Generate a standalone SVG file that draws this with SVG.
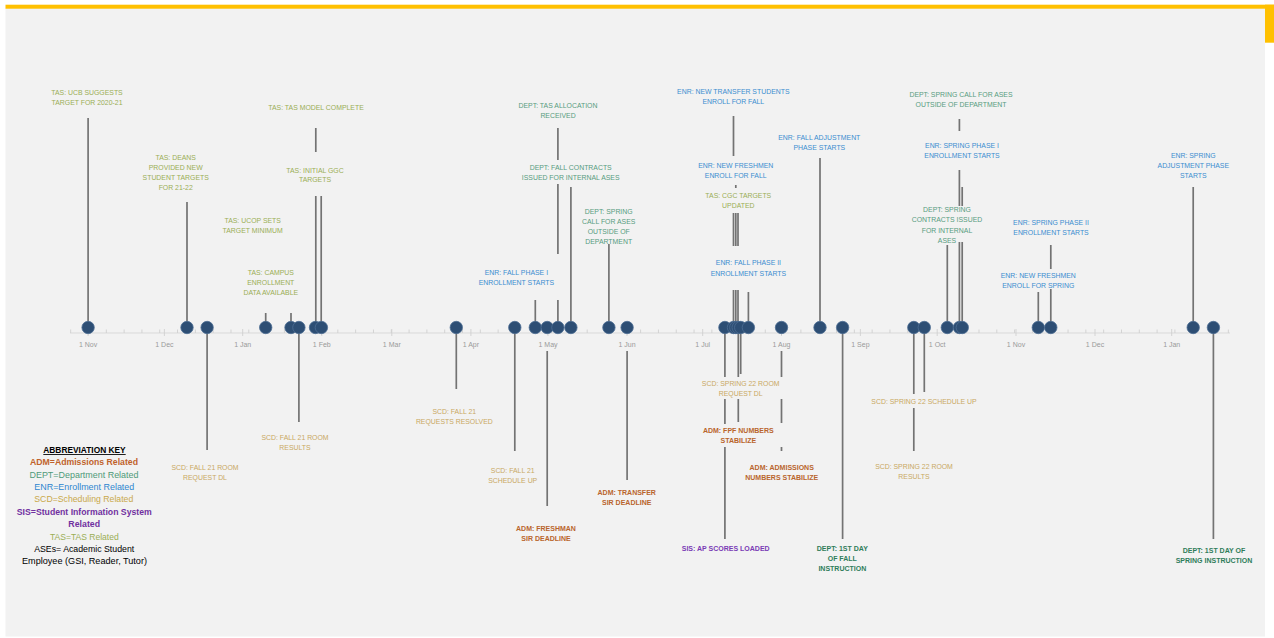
<svg xmlns="http://www.w3.org/2000/svg" width="1274" height="638" viewBox="0 0 1274 638">
<defs>
<style>
text{font-family:"Liberation Sans",Arial,sans-serif;text-anchor:middle}
.l{font-size:6.9px}
.b{font-size:7px;font-weight:bold}
.tas{fill:#9aae55}
.scd{fill:#c9a862}
.enr{fill:#3a8dd0}
.dept{fill:#579c80}
.deptb{fill:#2f7d5a}
.adm{fill:#b9652d}
.sis{fill:#7a3bb5}
.ax{font-size:7px;fill:#9a9a9a}
.leg{font-size:8.7px}
.st{stroke:#737373;stroke-width:1.7;fill:none}
.dot{fill:#2d4e74;stroke:#4d6d93;stroke-width:0.8}
</style>
<pattern id="wk" x="88" y="0" width="17.81" height="4" patternUnits="userSpaceOnUse">
<rect x="0" y="0" width="0.9" height="4" fill="#d0d0d0"/>
</pattern>
</defs>

<rect x="0" y="0" width="1274" height="638" fill="#ffffff"/>
<rect x="5.5" y="8" width="1259.5" height="628.5" fill="#f2f2f2"/>
<rect x="5.5" y="4.7" width="1268.5" height="4" fill="#ffc000"/>
<rect x="1265" y="4.7" width="9" height="38" fill="#ffc000"/>

<g id="axis">
<line x1="70" y1="333" x2="1230" y2="333" stroke="#d9d9d9" stroke-width="1"/>
<rect x="70" y="329.5" width="1160" height="3.5" fill="url(#wk)"/>
<path d="M88.1 329v7M164.4 329v7M242.7 329v7M321.8 329v7M391.8 329v7M470.9 329v7M548 329v7M627 329v7M702.7 329v7M781.5 329v7M860.4 329v7M937.2 329v7M1016 329v7M1095 329v7M1171.7 329v7" stroke="#d0d0d0" stroke-width="0.9"/>
<text class="ax" x="88.1" y="346.5">1 Nov</text>
<text class="ax" x="164.4" y="346.5">1 Dec</text>
<text class="ax" x="242.7" y="346.5">1 Jan</text>
<text class="ax" x="321.8" y="346.5">1 Feb</text>
<text class="ax" x="391.8" y="346.5">1 Mar</text>
<text class="ax" x="470.9" y="346.5">1 Apr</text>
<text class="ax" x="548" y="346.5">1 May</text>
<text class="ax" x="627" y="346.5">1 Jun</text>
<text class="ax" x="702.7" y="346.5">1 Jul</text>
<text class="ax" x="781.5" y="346.5">1 Aug</text>
<text class="ax" x="860.4" y="346.5">1 Sep</text>
<text class="ax" x="937.2" y="346.5">1 Oct</text>
<text class="ax" x="1016" y="346.5">1 Nov</text>
<text class="ax" x="1095" y="346.5">1 Dec</text>
<text class="ax" x="1171.7" y="346.5">1 Jan</text>
</g>

<g id="connectors" class="st">
<path d="M88.1 327V118"/>
<path d="M187 327V202"/>
<path d="M265.7 327V313"/>
<path d="M291 327V313"/>
<path d="M315.8 327V196M315.8 152V128"/>
<path d="M321.2 327V196"/>
<path d="M535.3 327V300"/>
<path d="M557.9 327V300M557.9 254V184M557.9 160V128"/>
<path d="M570.9 327V187"/>
<path d="M608.9 327V244"/>
<path d="M733.5 327V290M733.5 246V213M733.5 156V116"/>
<path d="M735.8 327V290M735.8 246V213M735.8 188V185"/>
<path d="M738 327V290M738 246V213"/>
<path d="M748.4 327V292"/>
<path d="M820 327V158"/>
<path d="M947.3 327V245"/>
<path d="M959.4 327V242M959.4 206V170M959.4 131V119"/>
<path d="M962.2 327V242M962.2 206V187"/>
<path d="M1038.3 327V292"/>
<path d="M1050.8 327V289M1050.8 269V245"/>
<path d="M1193.2 327V187"/>
<path d="M207.1 327V450"/>
<path d="M298.9 327V422"/>
<path d="M456.3 327V389"/>
<path d="M514.8 327V451"/>
<path d="M547.2 351V506"/>
<path d="M627.1 351V480"/>
<path d="M724.9 327V377M724.9 399V424M724.9 447V539"/>
<path d="M738.3 327V377M738.3 399V422"/>
<path d="M740.7 327V374"/>
<path d="M781.5 351V377M781.5 399V423M781.5 447V451"/>
<path d="M842.6 327V539"/>
<path d="M913.8 327V394M913.8 408V451"/>
<path d="M924.3 327V392"/>
<path d="M1213.4 327V539"/>
</g>

<g id="markers" class="dot">
<circle cx="88.1" cy="327.5" r="6.2"/>
<circle cx="187" cy="327.5" r="6.2"/>
<circle cx="207.1" cy="327.5" r="6.2"/>
<circle cx="265.7" cy="327.5" r="6.2"/>
<circle cx="291" cy="327.5" r="6.2"/>
<circle cx="298.9" cy="327.5" r="6.2"/>
<circle cx="315.5" cy="327.5" r="6.2"/>
<circle cx="321.4" cy="327.5" r="6.2"/>
<circle cx="456.3" cy="327.5" r="6.2"/>
<circle cx="514.8" cy="327.5" r="6.2"/>
<circle cx="535.3" cy="327.5" r="6.2"/>
<circle cx="547.2" cy="327.5" r="6.2"/>
<circle cx="557.9" cy="327.5" r="6.2"/>
<circle cx="570.9" cy="327.5" r="6.2"/>
<circle cx="608.9" cy="327.5" r="6.2"/>
<circle cx="627.1" cy="327.5" r="6.2"/>
<circle cx="724.9" cy="327.5" r="6.2"/>
<circle cx="733.5" cy="327.5" r="6.2"/>
<circle cx="735.8" cy="327.5" r="6.2"/>
<circle cx="738.2" cy="327.5" r="6.2"/>
<circle cx="740.7" cy="327.5" r="6.2"/>
<circle cx="748.4" cy="327.5" r="6.2"/>
<circle cx="781.5" cy="327.5" r="6.2"/>
<circle cx="820" cy="327.5" r="6.2"/>
<circle cx="842.6" cy="327.5" r="6.2"/>
<circle cx="913.8" cy="327.5" r="6.2"/>
<circle cx="924.3" cy="327.5" r="6.2"/>
<circle cx="947.3" cy="327.5" r="6.2"/>
<circle cx="959.4" cy="327.5" r="6.2"/>
<circle cx="962.3" cy="327.5" r="6.2"/>
<circle cx="1038.3" cy="327.5" r="6.2"/>
<circle cx="1050.8" cy="327.5" r="6.2"/>
<circle cx="1193.2" cy="327.5" r="6.2"/>
<circle cx="1213.4" cy="327.5" r="6.2"/>
</g>

<g id="tas-ucb"><text class="l tas"><tspan x="87" y="94.8">TAS: UCB SUGGESTS</tspan><tspan x="87" y="104.8">TARGET FOR 2020-21</tspan></text></g>
<g id="tas-deans"><text class="l tas"><tspan x="175.7" y="159.8">TAS: DEANS</tspan><tspan x="175.7" y="170">PROVIDED NEW</tspan><tspan x="175.7" y="180.2">STUDENT TARGETS</tspan><tspan x="175.7" y="190.4">FOR 21-22</tspan></text></g>
<g id="tas-ucop"><text class="l tas"><tspan x="252.7" y="223.2">TAS: UCOP SETS</tspan><tspan x="252.7" y="233.2">TARGET MINIMUM</tspan></text></g>
<g id="tas-campus"><text class="l tas"><tspan x="270.8" y="274.5">TAS: CAMPUS</tspan><tspan x="270.8" y="284.5">ENROLLMENT</tspan><tspan x="270.8" y="294.5">DATA AVAILABLE</tspan></text></g>
<g id="tas-model"><text class="l tas" x="316" y="109.8">TAS: TAS MODEL COMPLETE</text></g>
<g id="tas-ggc"><text class="l tas"><tspan x="315" y="172.5">TAS: INITIAL GGC</tspan><tspan x="315" y="182.3">TARGETS</tspan></text></g>
<g id="tas-cgc"><text class="l tas"><tspan x="738.3" y="198.2">TAS: CGC TARGETS</tspan><tspan x="738.3" y="208.2">UPDATED</tspan></text></g>

<g id="scd-fall-room-dl"><text class="l scd"><tspan x="205" y="469.8">SCD: FALL 21 ROOM</tspan><tspan x="205" y="479.8">REQUEST DL</tspan></text></g>
<g id="scd-fall-room-results"><text class="l scd"><tspan x="295" y="439.8">SCD: FALL 21 ROOM</tspan><tspan x="295" y="449.8">RESULTS</tspan></text></g>
<g id="scd-fall-requests"><text class="l scd"><tspan x="454.3" y="413.5">SCD: FALL 21</tspan><tspan x="454.3" y="423.5">REQUESTS RESOLVED</tspan></text></g>
<g id="scd-fall-schedule"><text class="l scd"><tspan x="512.7" y="472.5">SCD: FALL 21</tspan><tspan x="512.7" y="482.5">SCHEDULE UP</tspan></text></g>
<g id="scd-spring-dl"><text class="l scd"><tspan x="740.7" y="385.8">SCD: SPRING 22 ROOM</tspan><tspan x="740.7" y="395.8">REQUEST DL</tspan></text></g>
<g id="scd-spring-schedule"><text class="l scd" x="924" y="404.2">SCD: SPRING 22 SCHEDULE UP</text></g>
<g id="scd-spring-results"><text class="l scd"><tspan x="914" y="469.2">SCD: SPRING 22 ROOM</tspan><tspan x="914" y="479.2">RESULTS</tspan></text></g>

<g id="enr-fall-p1"><text class="l enr"><tspan x="516.4" y="274.8">ENR: FALL PHASE I</tspan><tspan x="516.4" y="284.8">ENROLLMENT STARTS</tspan></text></g>
<g id="enr-transfer-fall"><text class="l enr"><tspan x="733.3" y="94.2">ENR: NEW TRANSFER STUDENTS</tspan><tspan x="733.3" y="104.2">ENROLL FOR FALL</tspan></text></g>
<g id="enr-freshmen-fall"><text class="l enr"><tspan x="735.7" y="168.2">ENR: NEW FRESHMEN</tspan><tspan x="735.7" y="178.2">ENROLL FOR FALL</tspan></text></g>
<g id="enr-fall-p2"><text class="l enr"><tspan x="748.4" y="265.2">ENR: FALL PHASE II</tspan><tspan x="748.4" y="275.5">ENROLLMENT STARTS</tspan></text></g>
<g id="enr-fall-adj"><text class="l enr"><tspan x="819.3" y="140.2">ENR: FALL ADJUSTMENT</tspan><tspan x="819.3" y="150.2">PHASE STARTS</tspan></text></g>
<g id="enr-spring-p1"><text class="l enr"><tspan x="962" y="147.5">ENR: SPRING PHASE I</tspan><tspan x="962" y="157.8">ENROLLMENT STARTS</tspan></text></g>
<g id="enr-freshmen-spring"><text class="l enr"><tspan x="1038.3" y="277.5">ENR: NEW FRESHMEN</tspan><tspan x="1038.3" y="287.5">ENROLL FOR SPRING</tspan></text></g>
<g id="enr-spring-p2"><text class="l enr"><tspan x="1051" y="224.8">ENR: SPRING PHASE II</tspan><tspan x="1051" y="234.8">ENROLLMENT STARTS</tspan></text></g>
<g id="enr-spring-adj"><text class="l enr"><tspan x="1193.3" y="158.2">ENR: SPRING</tspan><tspan x="1193.3" y="168.2">ADJUSTMENT PHASE</tspan><tspan x="1193.3" y="178.2">STARTS</tspan></text></g>

<g id="dept-tas-alloc"><text class="l dept"><tspan x="558" y="108.2">DEPT: TAS ALLOCATION</tspan><tspan x="558" y="118.2">RECEIVED</tspan></text></g>
<g id="dept-fall-contracts"><text class="l dept"><tspan x="570.7" y="169.8">DEPT: FALL CONTRACTS</tspan><tspan x="570.7" y="179.8">ISSUED FOR INTERNAL ASES</tspan></text></g>
<g id="dept-spring-call-1"><text class="l dept"><tspan x="608.7" y="213.5">DEPT: SPRING</tspan><tspan x="608.7" y="223.5">CALL FOR ASES</tspan><tspan x="608.7" y="233.8">OUTSIDE OF</tspan><tspan x="608.7" y="244.2">DEPARTMENT</tspan></text></g>
<g id="dept-spring-call-2"><text class="l dept"><tspan x="961" y="96.5">DEPT: SPRING CALL FOR ASES</tspan><tspan x="961" y="106.5">OUTSIDE OF DEPARTMENT</tspan></text></g>
<g id="dept-spring-contracts"><text class="l dept"><tspan x="947" y="211.8">DEPT: SPRING</tspan><tspan x="947" y="221.8">CONTRACTS ISSUED</tspan><tspan x="947" y="232.5">FOR INTERNAL</tspan><tspan x="947" y="242.5">ASES</tspan></text></g>
<g id="dept-fall-instruction"><text class="b deptb"><tspan x="842.3" y="550.8">DEPT: 1ST DAY</tspan><tspan x="842.3" y="560.8">OF FALL</tspan><tspan x="842.3" y="570.8">INSTRUCTION</tspan></text></g>
<g id="dept-spring-instruction"><text class="b deptb"><tspan x="1214" y="552.8">DEPT: 1ST DAY OF</tspan><tspan x="1214" y="562.8">SPRING INSTRUCTION</tspan></text></g>

<g id="adm-freshman"><text class="b adm"><tspan x="546" y="530.8">ADM: FRESHMAN</tspan><tspan x="546" y="540.8">SIR DEADLINE</tspan></text></g>
<g id="adm-transfer"><text class="b adm"><tspan x="626.7" y="494.8">ADM: TRANSFER</tspan><tspan x="626.7" y="504.8">SIR DEADLINE</tspan></text></g>
<g id="adm-fpf"><text class="b adm"><tspan x="738.3" y="433.2">ADM: FPF NUMBERS</tspan><tspan x="738.3" y="443.2">STABILIZE</tspan></text></g>
<g id="adm-admissions"><text class="b adm"><tspan x="781.7" y="470.2">ADM: ADMISSIONS</tspan><tspan x="781.7" y="480.2">NUMBERS STABILIZE</tspan></text></g>

<g id="sis-ap"><text class="b sis" x="725.7" y="550.8">SIS: AP SCORES LOADED</text></g>

<g id="legend">
<text class="leg" x="84.5" y="453.1" font-weight="bold" fill="#000" text-decoration="underline" textLength="82.4" lengthAdjust="spacingAndGlyphs">ABBREVIATION KEY</text>
<text class="leg" x="84" y="464.8" font-weight="bold" fill="#c0622b" textLength="108" lengthAdjust="spacingAndGlyphs">ADM=Admissions Related</text>
<text class="leg" x="84" y="477.8" fill="#4e9a78" textLength="109" lengthAdjust="spacingAndGlyphs">DEPT=Department Related</text>
<text class="leg" x="84.3" y="490.4" fill="#2e86d0" textLength="100" lengthAdjust="spacingAndGlyphs">ENR=Enrollment Related</text>
<text class="leg" x="83.8" y="502.4" fill="#c9a84a" textLength="99" lengthAdjust="spacingAndGlyphs">SCD=Scheduling Related</text>
<text class="leg" x="84.3" y="515.1" font-weight="bold" fill="#7030a0" textLength="135" lengthAdjust="spacingAndGlyphs">SIS=Student Information System</text>
<text class="leg" x="84.2" y="527.1" font-weight="bold" fill="#7030a0" textLength="31.7" lengthAdjust="spacingAndGlyphs">Related</text>
<text class="leg" x="84.3" y="539.8" fill="#9aae55" textLength="68.7" lengthAdjust="spacingAndGlyphs">TAS=TAS Related</text>
<text class="leg" x="84.2" y="552.1" fill="#000" textLength="100" lengthAdjust="spacingAndGlyphs">ASEs= Academic Student</text>
<text class="leg" x="84.5" y="564.4" fill="#000" textLength="125" lengthAdjust="spacingAndGlyphs">Employee (GSI, Reader, Tutor)</text>
</g>
</svg>
